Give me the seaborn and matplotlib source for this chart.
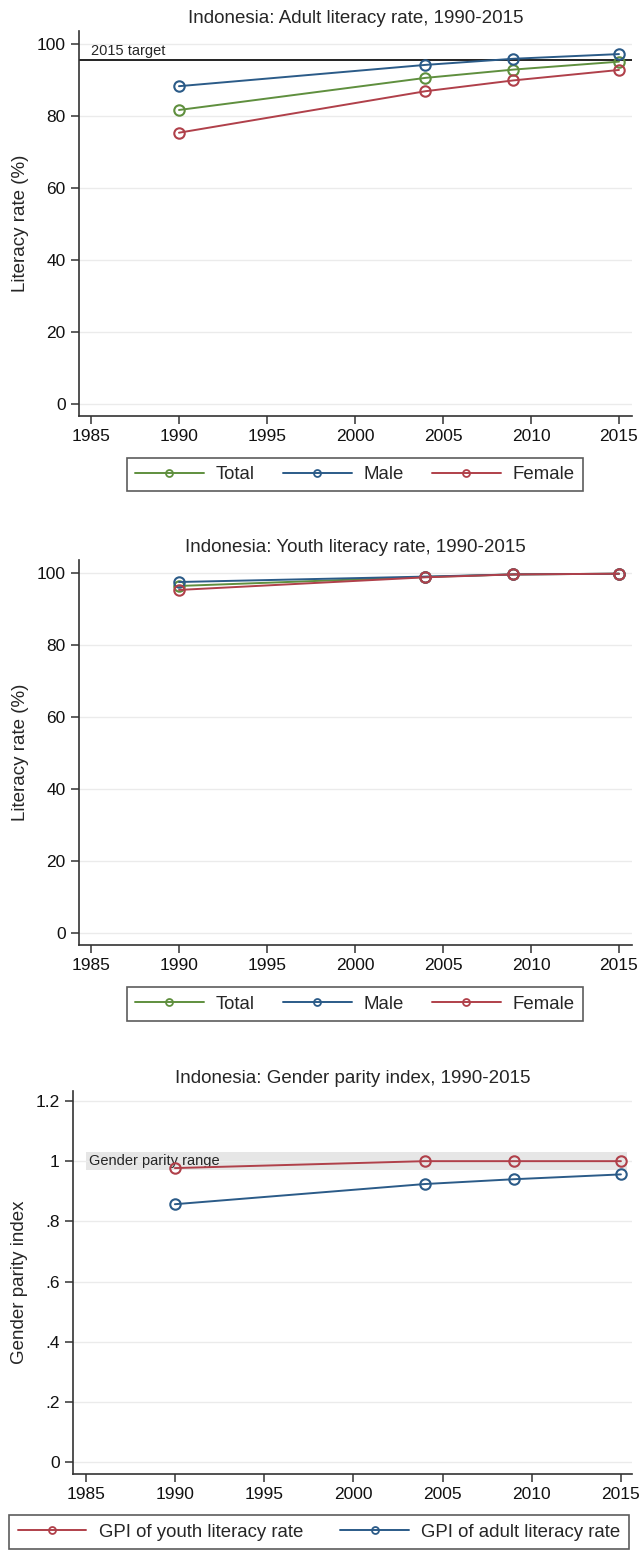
import numpy as np
import pandas as pd
import seaborn as sns
import matplotlib.pyplot as plt

sns.set_style("white")
plt.rcParams['font.family'] = ['Liberation Sans', 'DejaVu Sans']

years = [1990, 2004, 2009, 2015]

adult_total = [81.6, 90.5, 92.8, 95.0]
adult_male = [88.2, 94.1, 95.8, 97.1]
adult_female = [75.3, 86.8, 89.8, 92.7]
adult_target = 95.4

youth_total = [96.3, 98.8, 99.5, 99.7]
youth_male = [97.4, 98.9, 99.5, 99.7]
youth_female = [95.2, 98.7, 99.5, 99.7]

gpi_youth = [0.977, 1.0, 1.0, 1.0]
gpi_adult = [0.857, 0.924, 0.94, 0.956]
parity_low, parity_high = 0.97, 1.03

GREEN = "#5f8f3e"
BLUE = "#2b5b88"
RED = "#b0404a"
GRID = "#ebebeb"
AX = "#333333"

W, H = 642, 1551
fig = plt.figure(figsize=(W / 100, H / 100), dpi=100)


def pix_axes(left, top, right, bottom):
    return fig.add_axes([left / W, 1 - bottom / H, (right - left) / W, (bottom - top) / H])


def style(ax, yticks, ylabels, ylim, xlim):
    ax.set_xlim(*xlim)
    ax.set_ylim(*ylim)
    ax.set_xticks(range(1985, 2016, 5))
    ax.set_yticks(yticks)
    ax.set_yticklabels(ylabels)
    ax.grid(axis='y', color=GRID, lw=1)
    ax.set_axisbelow(True)
    for s in ['top', 'right']:
        ax.spines[s].set_visible(False)
    for s in ['left', 'bottom']:
        ax.spines[s].set_color(AX)
        ax.spines[s].set_linewidth(1.2)
    ax.tick_params(axis='both', direction='out', length=6, width=1.1, color=AX,
                   labelsize=12.5, labelcolor='#111111', left=True, bottom=True)
    ax.set_xlabel('')


def draw(ax, series, colors):
    handles = []
    for vals, c in zip(series, colors):
        df = pd.DataFrame({'year': years, 'value': vals})
        sns.lineplot(data=df, x='year', y='value', color=c, marker='o', markersize=7.5,
                     markerfacecolor='none', markeredgecolor=c, markeredgewidth=1.5,
                     lw=1.4, ax=ax, legend=False, zorder=3)
        handles.append(plt.Line2D([], [], color=c, lw=1.4, marker='o', markersize=5,
                                  markerfacecolor='none', markeredgecolor=c,
                                  markeredgewidth=1.3))
    return handles


def legend(handles, names, cx, cy, gap):
    leg = fig.legend(handles, names, loc='center', bbox_to_anchor=(cx / W, 1 - cy / H),
                     ncol=len(names), frameon=True, fancybox=False, fontsize=13.4,
                     handlelength=3.7, columnspacing=gap, handletextpad=0.65,
                     borderpad=0.45, borderaxespad=0)
    leg.get_frame().set_edgecolor(AX)
    leg.get_frame().set_linewidth(1.2)


lit_ticks = [0, 20, 40, 60, 80, 100]
lit_labels = ['0', '20', '40', '60', '80', '100']

# adult literacy
ax1 = pix_axes(79, 31, 632, 416)
h = draw(ax1, [adult_total, adult_male, adult_female], [GREEN, BLUE, RED])
ax1.axhline(adult_target, color='#222222', lw=1.4, zorder=2)
ax1.text(1985.0, adult_target + 0.6, '2015 target', fontsize=10.5, va='bottom', ha='left')
style(ax1, lit_ticks, lit_labels, (-3.24, 103.5), (1984.32, 2015.74))
ax1.set_ylabel('Literacy rate (%)', fontsize=13.5)
ax1.yaxis.set_label_coords(-0.09, 0.5)
ax1.set_title('Indonesia: Adult literacy rate, 1990-2015', fontsize=13.5, pad=6)
legend(h, ['Total', 'Male', 'Female'], 355, 474.5, 1.5)

# youth literacy
ax2 = pix_axes(79, 560, 632, 945)
h = draw(ax2, [youth_total, youth_male, youth_female], [GREEN, BLUE, RED])
style(ax2, lit_ticks, lit_labels, (-3.24, 103.5), (1984.32, 2015.74))
ax2.set_ylabel('Literacy rate (%)', fontsize=13.5)
ax2.yaxis.set_label_coords(-0.09, 0.5)
ax2.set_title('Indonesia: Youth literacy rate, 1990-2015', fontsize=13.5, pad=6)
legend(h, ['Total', 'Male', 'Female'], 355, 1004, 1.5)

# gender parity index
ax3 = pix_axes(73, 1091, 632, 1474)
ax3.fill_between([1985, 2015.35], parity_low, parity_high, color='#e6e6e6', lw=0, zorder=0.5)
ax3.text(1985.2, 1.0, 'Gender parity range', fontsize=10.5, va='center', ha='left', zorder=1)
h = draw(ax3, [gpi_youth, gpi_adult], [RED, BLUE])
style(ax3, [0, 0.2, 0.4, 0.6, 0.8, 1.0, 1.2], ['0', '.2', '.4', '.6', '.8', '1', '1.2'],
      (-0.039, 1.233), (1984.29, 2015.62))
ax3.set_ylabel('Gender parity index', fontsize=13.5)
ax3.yaxis.set_label_coords(-0.08, 0.5)
ax3.set_title('Indonesia: Gender parity index, 1990-2015', fontsize=13.5, pad=6)
legend(h, ['GPI of youth literacy rate', 'GPI of adult literacy rate'], 319, 1532, 2.0)

fig.savefig('out.png', dpi=100)
